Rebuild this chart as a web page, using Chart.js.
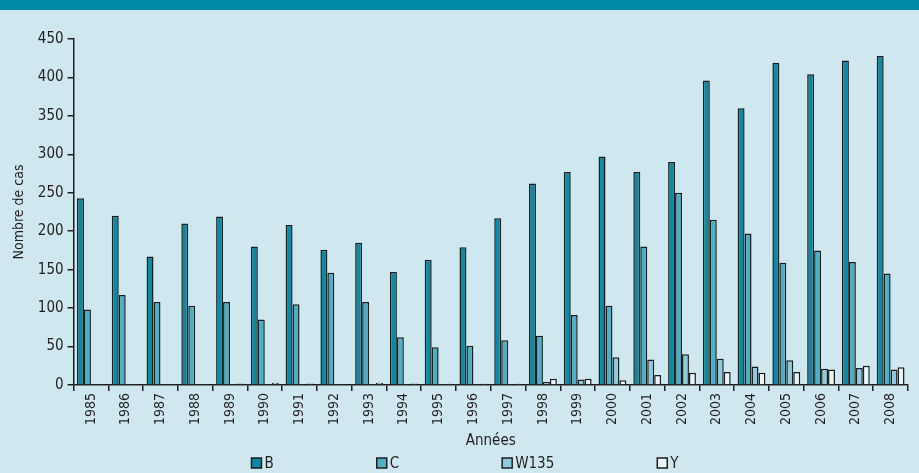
<!DOCTYPE html>
<html>
<head>
<meta charset="utf-8">
<script src="https://cdn.jsdelivr.net/npm/chart.js@4/dist/chart.umd.min.js"></script>
<style>
  html, body { margin: 0; padding: 0; background: #cfe7ee; }
  #band { position: absolute; left: 0; top: 0; width: 919px; height: 10px; background: #008ba9; }
  #wrap { position: absolute; left: 0; top: 0; width: 919px; height: 473px; }
</style>
</head>
<body>
<div id="band"></div>
<div id="wrap"><canvas id="myChart" width="919" height="473"></canvas></div>
<script>
// Nombre de cas par sérogroupe et par année
const annees = ['1985','1986','1987','1988','1989','1990','1991','1992','1993','1994','1995','1996',
  '1997','1998','1999','2000','2001','2002','2003','2004','2005','2006','2007','2008'];
const serogroupeB = [243,220,167,210,219,180,208,176,185,147,163,179,217,262,277,297,277,290,396,360,419,404,422,428];
const serogroupeC = [98,117,108,103,108,85,105,146,108,62,49,51,58,64,91,103,180,250,215,197,159,175,160,145];
const serogroupeW135 = [0,0,0,0,0,0,0,0,0,0,0,0,0,4,7,36,33,40,34,24,32,21,22,20];
const serogroupeY = [0,0,0,0,2,3,2,0,3,2,1.5,1.5,1.5,8,8,6,13,16,17,16,17,20,25,23];
const yTicks = [0,50,100,150,200,250,300,350,400,450];

const police = "'Liberation Sans Narrow', 'DejaVu Sans Condensed', 'Liberation Sans', sans-serif";
const encre = '#231f20';

window.addEventListener('load', setup);

// légende dessinée à la main : les items sont très espacés
const legendeBas = {
  id: 'legendeBas',
  afterDraw(chart) {
    const c = chart.ctx;
    const sets = chart.data.datasets;
    const gap = 103, box = 10, sep = 3;
    c.save();
    c.font = '15px ' + police;
    c.textBaseline = 'middle';
    const widths = sets.map(d => box + sep + c.measureText(d.label).width);
    const total = widths.reduce((a, b) => a + b, 0) + gap * (sets.length - 1);
    let x = 465 - total / 2;
    const y = 463;
    sets.forEach((d, i) => {
      c.fillStyle = d.backgroundColor;
      c.fillRect(x, y - box / 2, box, box);
      c.strokeStyle = '#1e1e1e';
      c.lineWidth = 1.5;
      c.strokeRect(x, y - box / 2, box, box);
      c.fillStyle = encre;
      c.fillText(d.label, x + box + sep, y + 1);
      x += widths[i] + gap;
    });
    c.restore();
  }
};

function setup() {
  Chart.defaults.font.family = police;
  Chart.defaults.color = encre;
  const ctx = document.getElementById('myChart').getContext('2d');
  const serie = (label, data, couleur) => ({
    label: label,
    data: data,
    backgroundColor: couleur,
    borderColor: '#1e1e1e',
    borderWidth: 1.5,
    borderSkipped: 'bottom',
    categoryPercentage: 0.8,
    barPercentage: 1.0
  });
  new Chart(ctx, {
    type: 'bar',
    data: {
      labels: annees,
      datasets: [
        serie('B', serogroupeB, '#0a8aa3'),
        serie('C', serogroupeC, '#4bb0c6'),
        serie('W135', serogroupeW135, '#8dcadb'),
        serie('Y', serogroupeY, '#e8f4f7')
      ]
    },
    options: {
      responsive: false,
      animation: false,
      layout: { padding: { top: 39, right: 11, left: 11, bottom: 23 } },
      plugins: {
        legend: { display: false },
        tooltip: { enabled: false }
      },
      scales: {
        x: {
          grid: { drawOnChartArea: false, offset: true, tickLength: 6, color: encre, lineWidth: 1.5 },
          border: { color: encre, width: 1.5 },
          ticks: { minRotation: 90, maxRotation: 90, autoSkip: false, font: { size: 14 }, color: encre, padding: 2 },
          title: { display: true, text: 'Années', font: { size: 15 }, color: encre, padding: { top: 5, bottom: 0 } }
        },
        y: {
          min: 0,
          max: 450,
          afterBuildTicks: axis => { axis.ticks = yTicks.map(v => ({ value: v })); },
          grid: { drawOnChartArea: false, tickLength: 6, color: encre, lineWidth: 1.5 },
          border: { color: encre, width: 1.5 },
          ticks: { font: { size: 15 }, color: encre, padding: 4 },
          title: { display: true, text: 'Nombre de cas', font: { size: 14 }, color: encre, padding: { top: 0, bottom: 6 } }
        }
      }
    },
    plugins: [legendeBas]
  });
}
</script>
</body>
</html>
